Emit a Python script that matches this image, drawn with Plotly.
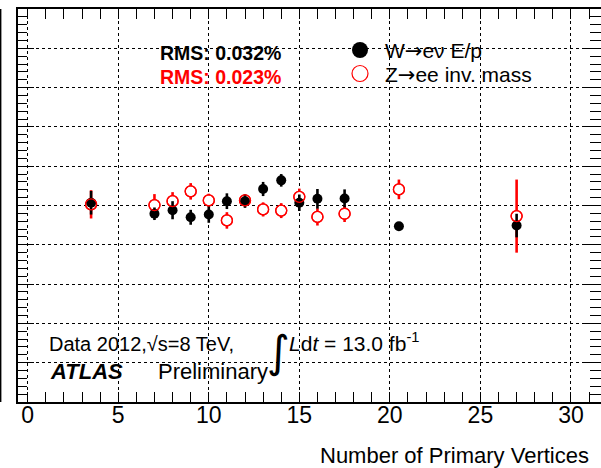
import plotly.graph_objects as go

# ---------------- data ----------------
nvtx = [3.5, 7, 8, 9, 10, 11, 12, 13, 14, 15, 16, 17.5, 20.5, 27]

w_ep = [0.007, -0.021, -0.012, -0.030, -0.023, 0.011, 0.011, 0.042, 0.064,
        0.007, 0.017, 0.018, -0.053, -0.051]
w_ep_err = [0.030, 0.016, 0.023, 0.019, 0.021, 0.020, 0.017, 0.018, 0.016,
            0.021, 0.025, 0.023, 0.004, 0.030]

z_mass = [0.003, 0.001, 0.011, 0.036, 0.013, -0.038, 0.013, -0.010, -0.013,
          0.022, -0.029, -0.021, 0.041, -0.027]
z_mass_err = [0.036, 0.028, 0.023, 0.021, 0.017, 0.021, 0.015, 0.018, 0.019,
              0.021, 0.022, 0.021, 0.025, 0.093]

x_ticks = [0, 5, 10, 15, 20, 25, 30]
x_range = [-0.536, 31.66]
y_range = [-0.5, 0.5]

FONT = "Liberation Sans, Arial, Helvetica, sans-serif"
W, H = 601, 468
ML, MR, MT, MB = 18, 0, 9, 66
PW, PH = W - ML - MR, H - MT - MB


def px(xp):
    return (xp - ML) / PW


def py(yp):
    return (H - MB - yp) / PH


fig = go.Figure()

# Z: red bars + white-filled markers (hide bar inside the ring)
fig.add_trace(go.Scatter(
    x=nvtx, y=z_mass, mode="markers", showlegend=False,
    marker=dict(symbol="circle", size=11, color="white",
                line=dict(color="#ff0000", width=1.3)),
    error_y=dict(type="data", array=z_mass_err, visible=True,
                 color="#ff0000", thickness=2.6, width=0),
))
# W: black points
fig.add_trace(go.Scatter(
    x=nvtx, y=w_ep, mode="markers", showlegend=False,
    marker=dict(symbol="circle", size=10, color="black",
                line=dict(width=0)),
    error_y=dict(type="data", array=w_ep_err, visible=True,
                 color="black", thickness=2.6, width=0),
))
# Z rings on top
fig.add_trace(go.Scatter(
    x=nvtx, y=z_mass, mode="markers", showlegend=False,
    marker=dict(symbol="circle-open", size=11, color="#ff0000",
                line=dict(color="#ff0000", width=1.3)),
))
# dummy trace for right-hand tick axis
fig.add_trace(go.Scatter(x=[], y=[], yaxis="y2", showlegend=False))

axis_font = dict(family=FONT, size=23, color="black")

fig.update_layout(
    width=W, height=H,
    margin=dict(l=ML, r=MR, t=MT, b=MB, pad=0),
    paper_bgcolor="white", plot_bgcolor="white",
    showlegend=False,
    font=dict(family=FONT, color="black"),
    xaxis=dict(
        range=x_range, tickvals=x_ticks, ticktext=[str(v) for v in x_ticks],
        ticks="inside", ticklen=10, tickwidth=1, tickcolor="black",
        showline=True, linecolor="black", linewidth=2, mirror="allticks",
        showgrid=True, gridcolor="black", griddash="dot", gridwidth=1,
        zeroline=False, tickfont=axis_font, ticklabelstandoff=-9,
        minor=dict(ticks="inside", ticklen=5, dtick=1, tick0=0,
                   tickcolor="black", tickwidth=1, showgrid=False),
    ),
    yaxis=dict(
        range=y_range, dtick=0.1, tick0=0,
        ticks="inside", ticklen=16, tickwidth=1, tickcolor="black",
        showline=True, linecolor="black", linewidth=2, mirror=False,
        showgrid=True, gridcolor="black", griddash="dot", gridwidth=1,
        zeroline=False, showticklabels=False,
        minor=dict(ticks="inside", ticklen=9, dtick=0.02, tick0=0,
                   tickcolor="black", tickwidth=1, showgrid=False),
    ),
    yaxis2=dict(
        range=y_range, dtick=0.1, tick0=0, overlaying="y", side="right",
        ticks="inside", ticklen=18, tickwidth=1, tickcolor="black",
        showline=False, showgrid=False, zeroline=False, showticklabels=False,
        minor=dict(ticks="inside", ticklen=11, dtick=0.02, tick0=0,
                   tickcolor="black", tickwidth=1, showgrid=False),
    ),
)

shapes = [
    # thin line at far left of picture
    dict(type="line", xref="paper", yref="paper",
         x0=px(0.6), x1=px(0.6), y0=0, y1=1,
         line=dict(color="black", width=1.6)),
    # legend symbols
    dict(type="circle", xref="paper", yref="paper",
         xsizemode="pixel", ysizemode="pixel",
         xanchor=px(360), yanchor=py(50),
         x0=-8, x1=8, y0=-8, y1=8,
         fillcolor="black", line=dict(color="black", width=0)),
    dict(type="circle", xref="paper", yref="paper",
         xsizemode="pixel", ysizemode="pixel",
         xanchor=px(360), yanchor=py(73.5),
         x0=-8, x1=8, y0=-8, y1=8,
         fillcolor="white", line=dict(color="#ff0000", width=1.2)),
]
fig.update_layout(shapes=shapes)

ARROW = '<span style="font-family:DejaVu Sans">\u2192</span>'

ann = [
    dict(text="<b>RMS: 0.032%</b>", x=px(158), y=py(53), xanchor="left",
         yanchor="middle", font=dict(size=19.5, color="black")),
    dict(text="<b>RMS: 0.023%</b>", x=px(158), y=py(77), xanchor="left",
         yanchor="middle", font=dict(size=19.5, color="#ff0000")),
    dict(text="W" + ARROW + "e\u03bd E/p", x=px(383), y=py(51),
         xanchor="left", yanchor="middle",
         font=dict(size=21, color="black")),
    dict(text="Z" + ARROW + "ee inv. mass", x=px(383), y=py(75),
         xanchor="left", yanchor="middle",
         font=dict(size=21, color="black")),
    dict(text="Data 2012,\u221as=8 TeV,", x=px(47), y=py(344),
         xanchor="left", yanchor="middle", font=dict(size=20, color="black")),
    dict(text="\u222b", x=px(278), y=py(351), xanchor="center",
         yanchor="middle", font=dict(size=44, color="black",
                                     family="DejaVu Sans")),
    dict(text="<i>L</i>d<i>t</i> = 13.0 fb<sup>-1</sup>", x=px(287),
         y=py(342), xanchor="left", yanchor="middle",
         font=dict(size=21, color="black")),
    dict(text="<b><i>ATLAS</i></b>", x=px(48), y=py(371), xanchor="left",
         yanchor="middle", font=dict(size=22, color="black")),
    dict(text="Preliminary", x=px(156), y=py(371), xanchor="left",
         yanchor="middle", font=dict(size=22, color="black")),
    dict(text="Number of Primary Vertices", x=px(591), y=py(455),
         xanchor="right", yanchor="middle",
         font=dict(size=22, color="black")),
]
for a in ann:
    a.update(xref="paper", yref="paper", showarrow=False)
fig.update_layout(annotations=ann)

fig.write_html("out.html")
